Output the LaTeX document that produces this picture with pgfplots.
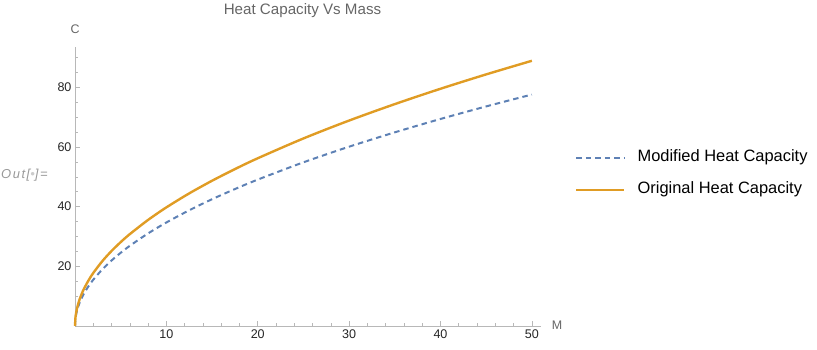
\documentclass[border=0pt]{standalone}
\usepackage{pgfplots}
\pgfplotsset{compat=1.18}
\usepackage{fontspec}
\setmainfont{Liberation Sans}

\definecolor{mmablue}{HTML}{5E81B5}
\definecolor{mmaorange}{HTML}{E09C24}
\definecolor{axgray}{HTML}{B8B8B8}

\pgfplotstableread{
M     orig   modif
0     0      0
0.05  2.81   2.45
0.1   3.97   3.47
0.2   5.62   4.91
0.35  7.44   6.49
0.5   8.89   7.76
0.75  10.89  9.50
1     12.57  10.97
1.5   15.39  13.43
2     17.78  15.51
3     21.77  19.00
4     25.14  21.94
5     28.11  24.53
6     30.79  26.87
8     35.55  31.03
10    39.75  34.69
12.5  44.44  38.78
15    48.68  42.49
17.5  52.58  45.89
20    56.21  49.06
25    62.85  54.85
30    68.85  60.09
35    74.36  64.90
40    79.50  69.38
45    84.32  73.59
50    88.88  77.57
}\heatdata

\begin{document}
\begin{tikzpicture}
\useasboundingbox (-75bp,-24bp) rectangle (742bp,326bp);
\begin{axis}[
    scale only axis,
    width=466bp, height=279bp,
    xmin=0, xmax=51, ymin=0, ymax=93.5,
    axis lines=left,
    axis line style={-, axgray, line width=0.8bp},
    xtick={10,20,...,50},
    ytick={20,40,60,80},
    minor xtick={2,4,...,48},
    minor ytick={5,10,...,90},
    tick align=inside,
    major tick length=5bp,
    minor tick length=3bp,
    every tick/.style={axgray, line width=0.6bp},
    tick label style={font=\fontsize{12.6}{14}\selectfont, text=black!85},
    /pgf/number format/assume math mode=true,
    clip=false,
    legend style={at={(axis description cs:1.0730,0.5448)}, anchor=west,
        draw=none, fill=none, inner sep=0pt,
        font=\fontsize{16.5}{19}\selectfont,
        nodes={inner sep=0pt, text height=12bp, text depth=4bp},
        row sep=16bp, column sep=12bp},
    legend cell align=left,
    legend image code/.code={\draw[#1] (0bp,0bp) -- (48bp,0bp);},
]
\addplot[mmablue, line width=2bp, dash pattern=on 5.5bp off 4bp, smooth]
    table[x=M, y=modif] {\heatdata};
\addlegendentry{Modified Heat Capacity}
\addplot[mmaorange, line width=2.4bp, smooth]
    table[x=M, y=orig] {\heatdata};
\addlegendentry{Original Heat Capacity}
\end{axis}
\node[anchor=base, text=black!60, font=\fontsize{15.2}{17}\selectfont] at (227.5bp,311bp) {Heat Capacity Vs Mass};
\node[text=black!60, font=\fontsize{12.5}{14}\selectfont] at (0bp,297bp) {C};
\node[text=black!60, font=\fontsize{12.5}{14}\selectfont] at (482bp,1bp) {M};
\node[anchor=west, inner sep=0pt, text=black!40, font=\itshape\fontsize{13}{15}\selectfont\addfontfeatures{LetterSpace=12}] at (-74bp,151bp) {Out[{\color{black!20}\textbullet}]=};
\end{tikzpicture}
\end{document}
